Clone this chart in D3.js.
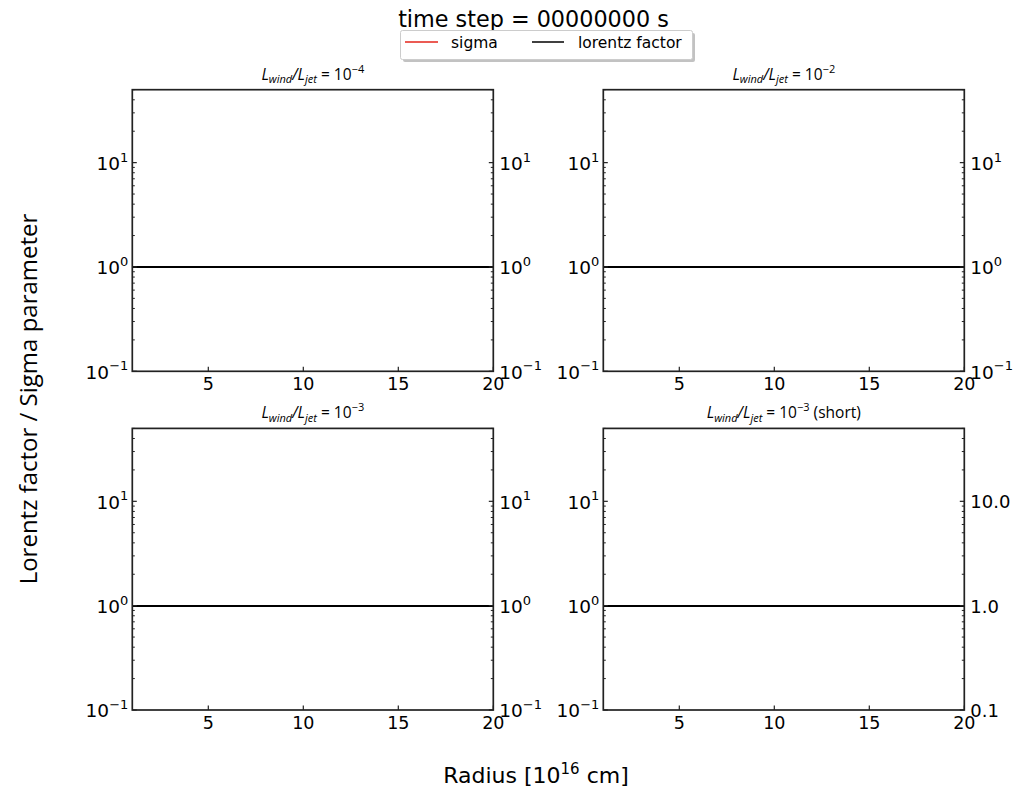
<!DOCTYPE html>
<html>
<head>
<meta charset="utf-8">
<script src="https://cdn.jsdelivr.net/npm/d3@7"></script>
<style>
  html, body { margin: 0; padding: 0; background: #fff; }
  svg text { fill: #000; }
</style>
</head>
<body>
<svg id="chart" width="1031" height="790"></svg>
<script>
// Radial profiles at the first output step (t = 0): radius in 1e16 cm
const radius = [1, 5, 10, 15, 20];
const lorentzFactor = [1, 1, 1, 1, 1];
const sigmaParam = [1, 1, 1, 1, 1];

// Panel titles: wind-to-jet luminosity ratio exponent, plus optional note
const panelExponents = ["−4", "−2", "−3", "−3"];
const panelNotes = ["", "", "", " (short)"];
const rightLabelStyle = ["pow", "pow", "pow", "plain"];

const xTicks = [5, 10, 15, 20];
const yMajorTicks = [0.1, 1, 10];
const yDomain = [0.1, 50];
const xDomain = [1, 20];

const svg = d3.select("#chart");
const FONT = "DejaVu Sans, sans-serif";

// Figure title
svg.append("text")
  .attr("x", 533.5).attr("y", 27)
  .attr("text-anchor", "middle")
  .attr("font-family", FONT).attr("font-size", 22.3)
  .text("time step = 00000000 s");

// Legend with drop shadow
const leg = svg.append("g");
leg.append("rect").attr("x", 403).attr("y", 33).attr("width", 292).attr("height", 29)
  .attr("rx", 2).attr("fill", "#999").attr("opacity", 0.6);
leg.append("rect").attr("x", 400.5).attr("y", 30.5).attr("width", 292).attr("height", 29)
  .attr("rx", 2).attr("fill", "#fff").attr("stroke", "#ccc").attr("stroke-width", 1);
leg.append("line").attr("x1", 405).attr("x2", 438).attr("y1", 42).attr("y2", 42)
  .attr("stroke", "#e4251b").attr("stroke-width", 1.5);
leg.append("text").attr("x", 451).attr("y", 48)
  .attr("font-family", FONT).attr("font-size", 15.5).text("sigma");
leg.append("line").attr("x1", 532).attr("x2", 564).attr("y1", 42).attr("y2", 42)
  .attr("stroke", "#000").attr("stroke-width", 1.5);
leg.append("text").attr("x", 578).attr("y", 48)
  .attr("font-family", FONT).attr("font-size", 15.5).text("lorentz factor");

// Shared axis titles
svg.append("text")
  .attr("transform", "translate(37,399) rotate(-90)")
  .attr("text-anchor", "middle")
  .attr("font-family", "Open Sans, sans-serif").attr("font-size", 24)
  .text("Lorentz factor / Sigma parameter");

const xl = svg.append("text")
  .attr("x", 536).attr("y", 783)
  .attr("text-anchor", "middle")
  .attr("font-family", FONT).attr("font-size", 22);
xl.append("tspan").text("Radius [10");
xl.append("tspan").attr("dy", -9).attr("font-size", 15).text("16");
xl.append("tspan").attr("dy", 9).text(" cm]");

// Panel geometry (2x2 grid)
const panelW = 361, panelH = 281.6;
const panelX = [132.3, 603.3, 132.3, 603.3];
const panelY = [89.7, 89.7, 428.4, 428.4];

const minorTicks = [];
[0.1, 1, 10].forEach(d => { for (let k = 2; k <= 9; k++) { const v = d * k; if (v <= yDomain[1]) minorTicks.push(v); } });

function powLabel(sel, v, anchor) {
  const e = Math.round(Math.log10(v));
  const t = sel.append("text")
    .attr("font-family", FONT).attr("font-size", 18.5)
    .attr("text-anchor", anchor);
  t.append("tspan").text("10");
  t.append("tspan").attr("dy", -8.5).attr("font-size", 13).text(e < 0 ? "−" + (-e) : String(e));
  return t;
}

panelExponents.forEach((exp, i) => {
  const g = svg.append("g").attr("transform", `translate(${panelX[i]},${panelY[i]})`);
  const x = d3.scaleLinear().domain(xDomain).range([0, panelW]);
  const y = d3.scaleLog().domain(yDomain).range([panelH, 0]);

  // Data lines (sigma drawn first; lorentz factor on top)
  const line = d3.line().x((d, j) => x(radius[j])).y(d => y(d));
  g.append("path").datum(sigmaParam).attr("d", line)
    .attr("fill", "none").attr("stroke", "#e4251b").attr("stroke-width", 2)
    .attr("shape-rendering", "crispEdges");
  g.append("path").datum(lorentzFactor).attr("d", line)
    .attr("fill", "none").attr("stroke", "#000").attr("stroke-width", 2)
    .attr("shape-rendering", "crispEdges");

  // Frame
  g.append("rect").attr("width", panelW).attr("height", panelH)
    .attr("fill", "none").attr("stroke", "#222").attr("stroke-width", 1.7);

  // Bottom axis: inward ticks, labels below
  const xa = g.append("g").attr("transform", `translate(0,${panelH})`);
  xTicks.forEach(t => {
    xa.append("line").attr("x1", x(t)).attr("x2", x(t)).attr("y1", 0).attr("y2", -4.5)
      .attr("stroke", "#222").attr("stroke-width", 1.2);
    xa.append("text").attr("x", x(t)).attr("y", 19)
      .attr("text-anchor", "middle").attr("font-family", FONT).attr("font-size", 17.5)
      .text(t);
  });

  // Left and right axes: inward ticks
  [0, panelW].forEach((px, side) => {
    const dir = side === 0 ? 1 : -1;
    yMajorTicks.forEach(v => {
      g.append("line").attr("x1", px).attr("x2", px + dir * 4.5)
        .attr("y1", y(v)).attr("y2", y(v)).attr("stroke", "#222").attr("stroke-width", 1.2);
    });
    minorTicks.forEach(v => {
      g.append("line").attr("x1", px).attr("x2", px + dir * 2.5)
        .attr("y1", y(v)).attr("y2", y(v)).attr("stroke", "#222").attr("stroke-width", 1);
    });
  });

  // Left tick labels
  yMajorTicks.forEach(v => {
    powLabel(g, v, "end").attr("x", -4).attr("y", y(v) + 7.5);
  });

  // Right tick labels
  yMajorTicks.forEach(v => {
    if (rightLabelStyle[i] === "pow") {
      powLabel(g, v, "start").attr("x", panelW + 6).attr("y", y(v) + 7.5);
    } else {
      g.append("text").attr("x", panelW + 6).attr("y", y(v) + 7)
        .attr("font-family", FONT).attr("font-size", 18)
        .text(d3.format(".1f")(v));
    }
  });

  // Panel title
  const tt = g.append("text")
    .attr("x", panelW / 2).attr("y", -10)
    .attr("text-anchor", "middle")
    .attr("font-family", "Open Sans, sans-serif").attr("font-size", 15.5);
  tt.append("tspan").attr("font-style", "italic").text("L");
  tt.append("tspan").attr("font-style", "italic").attr("font-size", 11).attr("dy", 3.5).text("wind");
  tt.append("tspan").attr("font-style", "italic").attr("dy", -3.5).text("/L");
  tt.append("tspan").attr("font-style", "italic").attr("font-size", 11).attr("dy", 3.5).text("jet");
  tt.append("tspan").attr("dy", -3.5).text(" = 10");
  tt.append("tspan").attr("font-size", 11).attr("dy", -7).text(exp);
  tt.append("tspan").attr("dy", 7).text(panelNotes[i]);
});
</script>
</body>
</html>
